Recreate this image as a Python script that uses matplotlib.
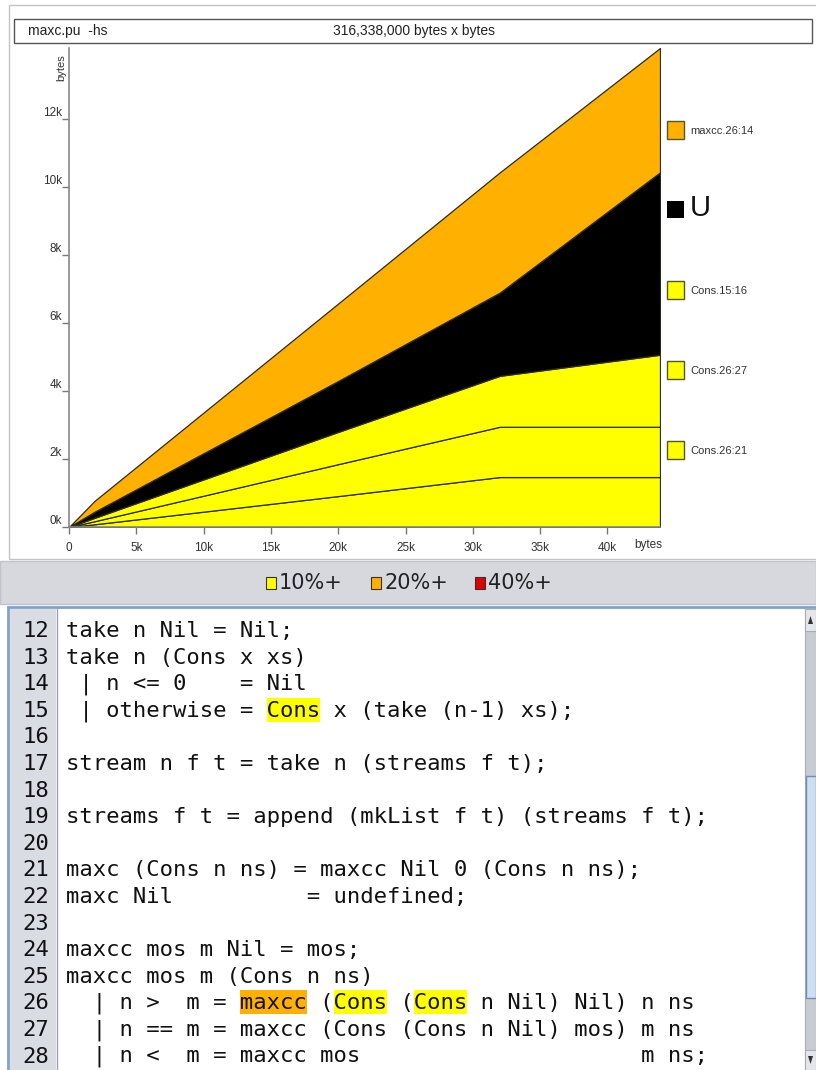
import numpy as np
import matplotlib.pyplot as plt
from matplotlib.patches import Rectangle, Polygon

# heap profile samples (x = bytes allocated, values = bytes live per producer)
x_bytes = [0, 1900, 20000, 32000, 43900]
cons_26_21 = [0, 80, 910, 1470, 1470]
cons_26_27 = [0, 90, 940, 1480, 1480]
cons_15_16 = [0, 100, 950, 1500, 2120]
unknown_u = [0, 180, 1500, 2450, 5370]
maxcc_26_14 = [0, 320, 2280, 3540, 3660]

band_labels = ["Cons.26:21", "Cons.26:27", "Cons.15:16", "U", "maxcc.26:14"]
band_colors = ["#ffff00", "#ffff00", "#ffff00", "#000000", "#ffb000"]

y_ticks = [0, 2000, 4000, 6000, 8000, 10000, 12000]
y_ticklabels = ["0k", "2k", "4k", "6k", "8k", "10k", "12k"]
x_ticks = [0, 5000, 10000, 15000, 20000, 25000, 30000, 35000, 40000]
x_ticklabels = ["0", "5k", "10k", "15k", "20k", "25k", "30k", "35k", "40k"]

code_start = 12
code_lines = [
    "take n Nil = Nil;",
    "take n (Cons x xs)",
    " | n <= 0    = Nil",
    " | otherwise = Cons x (take (n-1) xs);",
    "",
    "stream n f t = take n (streams f t);",
    "",
    "streams f t = append (mkList f t) (streams f t);",
    "",
    "maxc (Cons n ns) = maxcc Nil 0 (Cons n ns);",
    "maxc Nil          = undefined;",
    "",
    "maxcc mos m Nil = mos;",
    "maxcc mos m (Cons n ns)",
    "  | n >  m = maxcc (Cons (Cons n Nil) Nil) n ns",
    "  | n == m = maxcc (Cons (Cons n Nil) mos) m ns",
    "  | n <  m = maxcc mos                     m ns;",
]
# (line number, column, length, colour)
highlights = [(15, 15, 4, "#ffff00"), (26, 13, 5, "#ffb000"),
              (26, 20, 4, "#ffff00"), (26, 26, 4, "#ffff00")]

share_labels = ["10%+", "20%+", "40%+"]
share_colors = ["#ffff00", "#ffb000", "#e00000"]

W, H = 816, 1070
fig = plt.figure(figsize=(W / 100, H / 100), dpi=100)

# pixel-space background layer
bg = fig.add_axes([0, 0, 1, 1])
bg.set_xlim(0, W)
bg.set_ylim(H, 0)
bg.axis("off")

sans = "Liberation Sans"

# chart panel
bg.add_patch(Rectangle((9, 5), 820, 554, facecolor="white", edgecolor="#c4c4c4", lw=1))
bg.add_patch(Rectangle((14, 19), 798, 24, facecolor="white", edgecolor="#555555", lw=1))
bg.text(28, 31, "maxc.pu  -hs", fontsize=10, family=sans, va="center", color="#222222")
bg.text(414, 31, "316,338,000 bytes x bytes", fontsize=10, family=sans,
        ha="center", va="center", color="#222222")

# right-hand legend
leg_y = [450, 370, 290, 209, 130]
for lab, col, yc in zip(band_labels, band_colors, leg_y):
    if lab == "U":
        bg.add_patch(Rectangle((667, yc - 8.5), 17, 17, facecolor="black", edgecolor="black", lw=0))
        bg.text(690, yc - 1, lab, fontsize=21, family=sans, va="center", color="#111111")
    else:
        bg.add_patch(Rectangle((667, yc - 9), 17, 18, facecolor=col, edgecolor="#555533", lw=1))
        bg.text(690, yc + 1, lab, fontsize=8, family=sans, va="center", color="#333333")

# axis labels
bg.text(61, 68, "bytes", fontsize=8, family=sans, rotation=90, ha="center", va="center", color="#333333")
bg.text(648, 545, "bytes", fontsize=8.5, family=sans, ha="center", va="center", color="#333333")

# share band
bg.add_patch(Rectangle((0, 561), W, 43, facecolor="#d6d8de", edgecolor="#c0c3c9", lw=1))
sx = [266, 371, 475]
for lab, col, x0 in zip(share_labels, share_colors, sx):
    bg.add_patch(Rectangle((x0, 577), 10, 12, facecolor=col, edgecolor="#333333", lw=0.8))
    bg.text(x0 + 13, 583, lab, fontsize=15, va="center", color="#222222")

# code editor
bg.add_patch(Rectangle((8, 607), W, 470, facecolor="white", edgecolor="#7fa3c9", lw=2))
bg.add_patch(Rectangle((10, 609), 46, 470, facecolor="#d9dce3", edgecolor="none"))
bg.plot([56.5, 56.5], [609, H], color="#9da2aa", lw=1)

line_h = 26.6
char_w = 16 * 100 / 72 * 0.602
code_x = 66
for ln, col, n, c in highlights:
    yc = 630 + (ln - code_start) * line_h
    bg.add_patch(Rectangle((code_x + col * char_w, yc - 12), n * char_w, 24,
                           facecolor=c, edgecolor="none"))
for i, line in enumerate(code_lines):
    yc = 630 + i * line_h
    bg.text(49, yc + 1, str(code_start + i), family="DejaVu Sans Mono", fontsize=16,
            ha="right", va="center", color="#111111")
    bg.text(code_x, yc + 1, line, family="DejaVu Sans Mono", fontsize=16,
            va="center", color="#111111")

# scrollbar
bg.add_patch(Rectangle((805, 609), 11, 461, facecolor="#c8cbd1", edgecolor="#a9adb4", lw=0.8))
bg.add_patch(Rectangle((806, 776), 10, 222, facecolor="#cfdff0", edgecolor="#6d8fb3", lw=1))
bg.add_patch(Rectangle((805, 609), 11, 22, facecolor="#e4e6ea", edgecolor="#a9adb4", lw=0.8))
bg.add_patch(Rectangle((805, 1050), 11, 20, facecolor="#e4e6ea", edgecolor="#a9adb4", lw=0.8))
bg.add_patch(Polygon([[808, 624], [813, 624], [810.5, 616]], closed=True, facecolor="#333333"))
bg.add_patch(Polygon([[808, 1056], [813, 1056], [810.5, 1064]], closed=True, facecolor="#333333"))

# the area chart itself
ax = fig.add_axes([69 / W, 1 - 527 / H, (660 - 69) / W, (527 - 48) / H])
ax.patch.set_alpha(0)
ax.stackplot(x_bytes, cons_26_21, cons_26_27, cons_15_16, unknown_u, maxcc_26_14,
             colors=band_colors, edgecolor="#2b2b1a", linewidth=0.9)
ax.set_xlim(0, x_bytes[-1])
ax.set_ylim(0, np.sum([cons_26_21, cons_26_27, cons_15_16, unknown_u, maxcc_26_14], axis=0)[-1])
ax.set_yticks(y_ticks)
ax.set_yticklabels(y_ticklabels, fontsize=8.5, family=sans, color="#333333", va="bottom")
ax.set_xticks(x_ticks)
ax.set_xticklabels(x_ticklabels, fontsize=8.5, family=sans, color="#333333")
ax.tick_params(axis="y", length=5, width=1, color="#777777", pad=0)
ax.tick_params(axis="x", length=5, width=1, color="#777777", pad=6)
for s in ["top", "right"]:
    ax.spines[s].set_visible(False)
for s in ["left", "bottom"]:
    ax.spines[s].set_color("#888888")
    ax.spines[s].set_linewidth(1.2)

fig.savefig("out.png", dpi=100)
